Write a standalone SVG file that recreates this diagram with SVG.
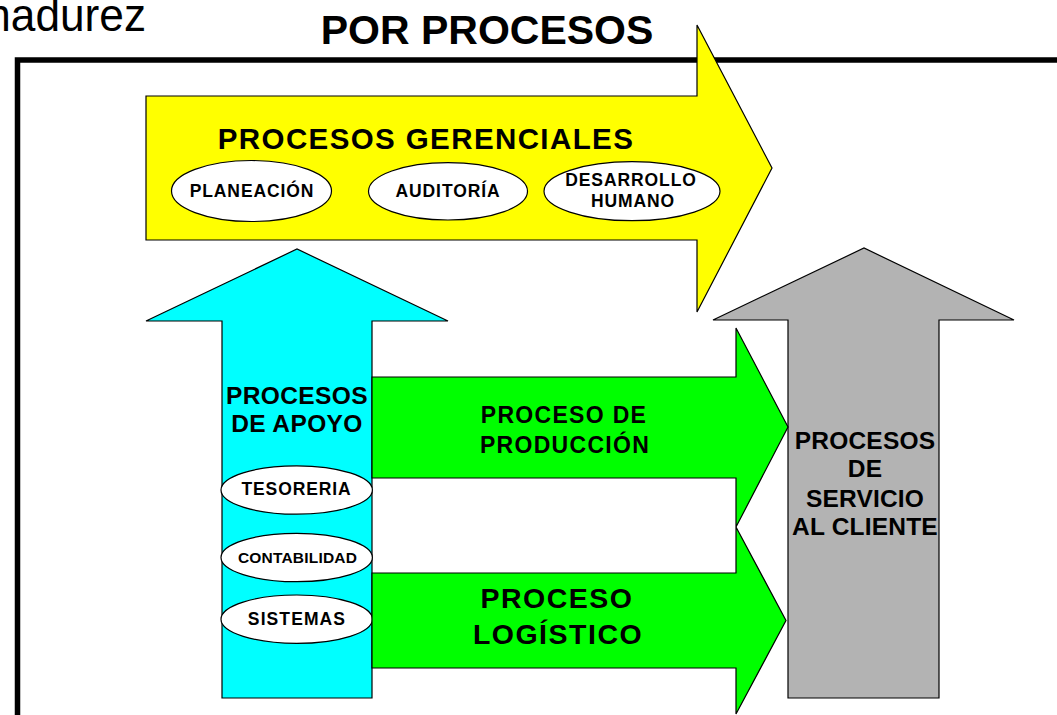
<svg xmlns="http://www.w3.org/2000/svg" width="1057" height="715" viewBox="0 0 1057 715">
<style>
.sh{stroke:#000;stroke-width:1.2;stroke-linejoin:miter}
.ell{fill:#fff;stroke:#000;stroke-width:1.2}
.b{font-family:"Liberation Sans",Arial,sans-serif;font-weight:bold;fill:#000;text-anchor:middle}
</style>
<rect width="1057" height="715" fill="#fff"/>
<g id="title">
<text x="146" y="31" font-family="'Liberation Sans',Arial,sans-serif" font-size="46" text-anchor="end" fill="#000" textLength="172" lengthAdjust="spacingAndGlyphs">madurez</text>
<text class="b" x="487" y="44" font-size="41">POR PROCESOS</text>
</g>
<g id="frame">
<path d="M17.5 715 V60 H1057" fill="none" stroke="#000" stroke-width="5.5"/>
</g>
<g id="connectors"></g>
<g id="gerenciales">
<polygon class="sh" fill="#FFFF00" points="146,96 697,96 697,25 772,168 697,312 697,240 146,240"/>
<text class="b" x="426" y="149" font-size="29.5" letter-spacing="1.4">PROCESOS GERENCIALES</text>
<ellipse class="ell" cx="251.5" cy="191" rx="80" ry="30.5"/>
<text class="b" x="252" y="197" font-size="17.5" letter-spacing="0.9">PLANEACIÓN</text>
<ellipse class="ell" cx="448" cy="191.3" rx="79.5" ry="28.7"/>
<text class="b" x="448" y="197" font-size="17.5" letter-spacing="0.9">AUDITORÍA</text>
<ellipse class="ell" cx="632" cy="191.2" rx="88" ry="29.5"/>
<text class="b" x="631" y="186" font-size="17.5" letter-spacing="0.9">DESARROLLO</text>
<text class="b" x="633" y="206.5" font-size="17.5" letter-spacing="0.9">HUMANO</text>
</g>
<g id="apoyo">
<polygon class="sh" fill="#00FFFF" points="222,698 222,321 146,321 297,249 448,321 372,321 372,698"/>
<text class="b" x="297" y="404" font-size="24.5" letter-spacing="0.4">PROCESOS</text>
<text class="b" x="297" y="432" font-size="24.5" letter-spacing="0.4">DE APOYO</text>
<ellipse class="ell" cx="296.7" cy="490" rx="75.7" ry="24.2"/>
<text class="b" x="296.5" y="495" font-size="17.5" letter-spacing="0.9">TESORERIA</text>
<ellipse class="ell" cx="296.7" cy="557.5" rx="75.7" ry="24.2"/>
<text class="b" x="297.5" y="563" font-size="15.5" letter-spacing="0.2">CONTABILIDAD</text>
<ellipse class="ell" cx="296.7" cy="619.2" rx="75.7" ry="24.2"/>
<text class="b" x="297" y="625" font-size="17.5" letter-spacing="1.1">SISTEMAS</text>
</g>
<g id="servicio">
<polygon class="sh" fill="#B3B3B3" points="788,698 788,320 713,320 864,248 1014,320 939,320 939,698"/>
<text class="b" x="865" y="449" font-size="24.5" letter-spacing="0.2">PROCESOS</text>
<text class="b" x="865" y="477" font-size="24.5" letter-spacing="0.2">DE</text>
<text class="b" x="865" y="506.5" font-size="24.5" letter-spacing="0.2">SERVICIO</text>
<text class="b" x="865" y="535" font-size="24.5" letter-spacing="0.2">AL CLIENTE</text>
</g>
<g id="produccion">
<polygon class="sh" fill="#00FF00" points="372,377 736,377 736,328 788,427 736,527 736,478 372,478"/>
<text class="b" x="564" y="423" font-size="23" letter-spacing="1.3">PROCESO DE</text>
<text class="b" x="565" y="452.5" font-size="23" letter-spacing="1.3">PRODUCCIÓN</text>
</g>
<g id="logistico">
<polygon class="sh" fill="#00FF00" points="372,573 736,573 736,527 786,620.5 736,714 736,668 372,668"/>
<text class="b" x="557" y="608" font-size="28.5" letter-spacing="1.5">PROCESO</text>
<text class="b" x="558" y="644" font-size="28.5" letter-spacing="1.5">LOGÍSTICO</text>
</g>
</svg>
